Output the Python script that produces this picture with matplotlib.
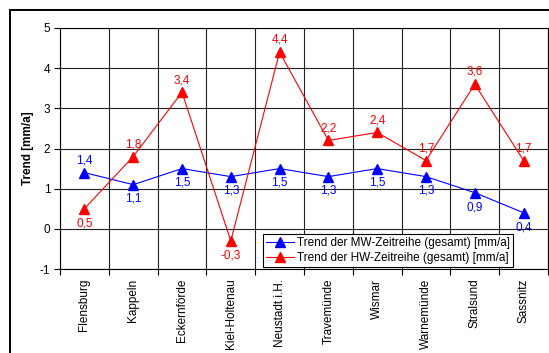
import matplotlib
matplotlib.use("Agg")
import matplotlib.pyplot as plt
from matplotlib.patches import Rectangle

# Pegelstationen und Trends [mm/a]
stations = ["Flensburg", "Kappeln", "Eckernförde", "Kiel-Holtenau", "Neustadt i.H.",
            "Travemünde", "Wismar", "Warnemünde", "Stralsund", "Sassnitz"]
mw_trend = [1.4, 1.1, 1.5, 1.3, 1.5, 1.3, 1.5, 1.3, 0.9, 0.4]
hw_trend = [0.5, 1.8, 3.4, -0.3, 4.4, 2.2, 2.4, 1.7, 3.6, 1.7]

# Beschriftung oberhalb (True) oder unterhalb (False) des Punktes
mw_above = [True, False, False, False, False, False, False, False, False, False]
hw_above = [False, True, True, False, True, True, True, True, True, True]

mw_label = "Trend der MW-Zeitreihe (gesamt) [mm/a]"
hw_label = "Trend der HW-Zeitreihe (gesamt) [mm/a]"

plt.rcParams['font.family'] = ['Liberation Sans', 'DejaVu Sans']
FS = 8.5

W, H = 549, 353
fig = plt.figure(figsize=(W / 100, H / 100), dpi=100)
ax = fig.add_axes([60 / W, 1 - 269 / H, 488 / W, 241 / H])

# outer chart frame (Excel style)
fig.patches.append(Rectangle((10 / W, -0.2), 1.0, 1.2 - 10 / H, transform=fig.transFigure,
                             fill=False, edgecolor='black', linewidth=1.4, clip_on=False))

x = list(range(len(stations)))
ax.plot(x, mw_trend, color='#0000FF', marker='^', markersize=6.5, linewidth=0.8,
        label=mw_label, clip_on=False, zorder=3)
ax.plot(x, hw_trend, color='#FF0000', marker='^', markersize=6.5, linewidth=0.8,
        label=hw_label, clip_on=False, zorder=3)

def fmt(v):
    return f"{v:.1f}".replace(".", ",")

for xi, v, up in zip(x, mw_trend, mw_above):
    ax.annotate(fmt(v), (xi, v), xytext=(0, 4.5 if up else -6), textcoords='offset points',
                ha='center', va='bottom' if up else 'top', color='#0000FF', fontsize=FS)
for xi, v, up in zip(x, hw_trend, hw_above):
    ax.annotate(fmt(v), (xi, v), xytext=(0, 4.5 if up else -6), textcoords='offset points',
                ha='center', va='bottom' if up else 'top', color='#FF0000', fontsize=FS)

ax.set_xlim(-0.5, len(stations) - 0.5)
ax.set_ylim(-1, 5)
ax.set_yticks(range(-1, 6))
ax.set_yticklabels([str(v) for v in range(-1, 6)], fontsize=FS)

# grid on category boundaries, labels at centres
ax.set_xticks([i - 0.5 for i in range(len(stations) + 1)])
ax.set_xticklabels([])
ax.set_xticks(x, minor=True)
ax.set_xticklabels(stations, minor=True, rotation=90, fontsize=FS, va='top', ha='center')
ax.tick_params(axis='x', which='major', length=4, width=0.8, direction='out')
ax.tick_params(axis='x', which='minor', length=0, pad=7)
ax.tick_params(axis='y', length=4, width=0.8, pad=3)

ax.grid(True, which='major', color='#222222', linewidth=0.8)
ax.set_axisbelow(True)
for s in ax.spines.values():
    s.set_linewidth(0.8)

ax.set_ylabel("Trend [mm/a]", fontsize=FS, fontweight='bold')
ax.yaxis.set_label_coords(-0.053, 0.5)

leg = ax.legend(loc='lower left', bbox_to_anchor=(0.416, 0.008), fontsize=FS,
                frameon=True, fancybox=False, framealpha=1, edgecolor='black',
                handlelength=2.4, handletextpad=0.2, borderpad=0.25, labelspacing=0.25,
                borderaxespad=0)
leg.get_frame().set_linewidth(0.8)

fig.savefig("out.png", dpi=100)
